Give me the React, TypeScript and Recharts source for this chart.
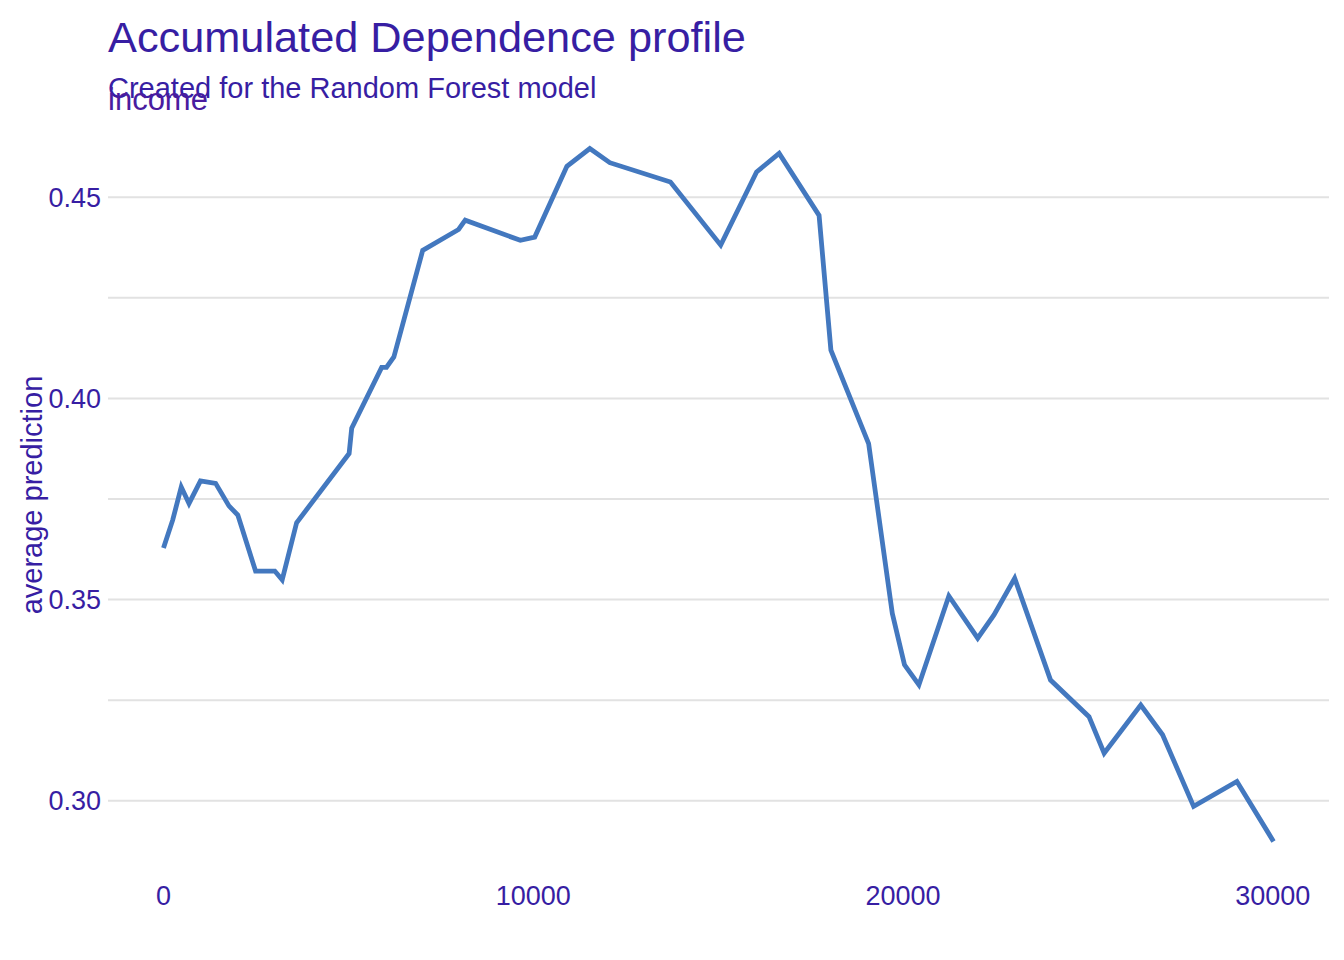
import { LineChart, Line, XAxis, YAxis, CartesianGrid, Label } from 'recharts'

const incomeValues = [
    0, 250, 480, 690, 1000, 1410, 1770, 2010, 2490, 3010, 3210, 3600, 5020, 5090, 5900, 6030,
    6230, 7010, 7980, 8160, 9650, 10040, 10910, 11530, 12070, 13710, 15070, 16040, 16650, 17730,
    18050, 19070, 19710, 20040, 20430, 21240, 22020, 22460, 23020, 23990, 25030, 25440, 26430,
    27020, 27860, 29030, 30020,
]

const averagePrediction = [
    0.3628, 0.3698, 0.378, 0.3739, 0.3795, 0.3789, 0.3733, 0.371, 0.3571, 0.3571, 0.3549, 0.3691,
    0.3863, 0.3926, 0.4077, 0.4077, 0.4103, 0.4368, 0.442, 0.4443, 0.4393, 0.4401, 0.4577, 0.4621,
    0.4586, 0.4538, 0.4381, 0.4563, 0.4609, 0.4455, 0.412, 0.3888, 0.3466, 0.3338, 0.3288, 0.3509,
    0.3404, 0.3462, 0.3553, 0.33, 0.3209, 0.3118, 0.3238, 0.3164, 0.2986, 0.3048, 0.2899,
]

const xTicks = [0, 10000, 20000, 30000]
const yTicks = [0.3, 0.325, 0.35, 0.375, 0.4, 0.425, 0.45]
const yLabelTicks = [0.3, 0.35, 0.4, 0.45]

const data = incomeValues.map((income, i) => ({ income, prediction: averagePrediction[i] }))

const FONT = '"Liberation Sans", Arial, sans-serif'
const TEXT = '#371ea3'

export default function App() {
    return (
        <div
            style={{
                position: 'absolute',
                left: 0,
                top: 0,
                width: 1344,
                height: 960,
                background: '#fff',
                fontFamily: FONT,
            }}
        >
            <div style={{ position: 'absolute', left: 108, top: 16, fontSize: 43.3, color: TEXT, lineHeight: 1, whiteSpace: 'nowrap' }}>
                Accumulated Dependence profile
            </div>
            <div style={{ position: 'absolute', left: 108, top: 74, fontSize: 29, color: TEXT, lineHeight: 1, whiteSpace: 'nowrap' }}>
                Created for the Random Forest model
            </div>
            <div style={{ position: 'absolute', left: 108, top: 84, fontSize: 31, color: '#4a1c9f', lineHeight: 1, whiteSpace: 'nowrap' }}>
                income
            </div>
            <LineChart
                width={1344}
                height={960}
                data={data}
                margin={{ top: 114, right: 15, bottom: 0, left: 0 }}
                style={{ position: 'absolute', left: 0, top: 0 }}
            >
                <CartesianGrid vertical={false} horizontalValues={yTicks} stroke="#e2e2e2" strokeWidth={2} />
                <XAxis
                    dataKey="income"
                    type="number"
                    domain={[-1501, 31521]}
                    ticks={xTicks}
                    allowDataOverflow
                    height={84}
                    axisLine={false}
                    tickLine={false}
                    tickMargin={4}
                    tick={{ fill: TEXT, fontSize: 27, fontFamily: FONT }}
                />
                <YAxis
                    type="number"
                    domain={[0.2813, 0.4707]}
                    ticks={yTicks}
                    allowDataOverflow
                    width={108}
                    axisLine={false}
                    tickLine={false}
                    tickMargin={1}
                    interval={0}
                    tick={{ fill: TEXT, fontSize: 27, fontFamily: FONT }}
                    tickFormatter={(v: number) =>
                        yLabelTicks.some((t) => Math.abs(t - v) < 1e-9) ? v.toFixed(2) : ''
                    }
                >
                    <Label
                        content={({ viewBox }: any) => {
                            const cx = 32
                            const cy = viewBox.y + viewBox.height / 2
                            return (
                                <text
                                    x={cx}
                                    y={cy}
                                    transform={`rotate(-90, ${cx}, ${cy})`}
                                    textAnchor="middle"
                                    dominantBaseline="central"
                                    fill={TEXT}
                                    fontSize={29}
                                    fontFamily={FONT}
                                >
                                    average prediction
                                </text>
                            )
                        }}
                    />
                </YAxis>
                <Line
                    dataKey="prediction"
                    type="linear"
                    stroke="#4378bf"
                    strokeWidth={4.8}
                    dot={false}
                    isAnimationActive={false}
                />
            </LineChart>
        </div>
    )
}
